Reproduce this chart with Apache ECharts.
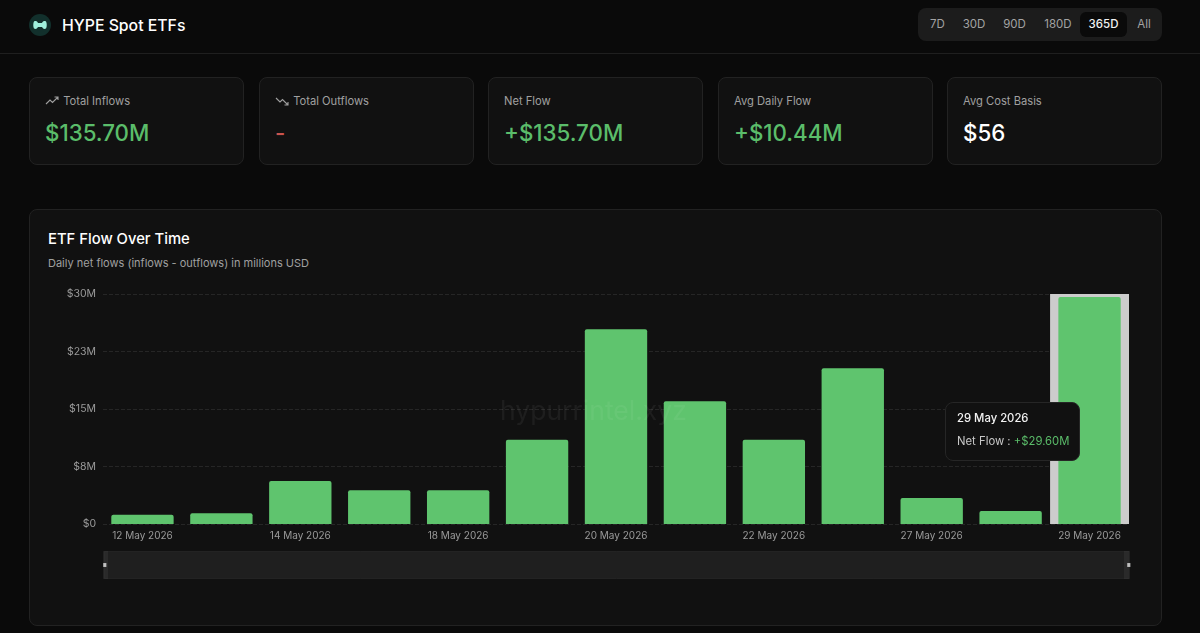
<!DOCTYPE html>
<html><head><meta charset="utf-8">
<script src="https://cdn.jsdelivr.net/npm/echarts@6/dist/echarts.min.js"></script>
<style>
*{box-sizing:border-box;margin:0;padding:0}
html,body{width:1200px;height:633px;overflow:hidden;background:#0a0a0a;font-family:Inter,"Noto Sans",sans-serif;color:#fff}
.abs{position:absolute}
#hdr{left:0;top:0;width:1200px;height:54px;border-bottom:1px solid #1f1f1f}
#logo{left:29px;top:14px;width:22px;height:22px}
#ttl{left:62px;top:15px;font-size:15.8px;line-height:22px;font-weight:500}
#rng{left:918px;top:8px;width:244px;height:33px;background:#1c1c1c;border-radius:8px}
#rng span{position:absolute;top:4px;height:25px;line-height:25px;font-size:11.5px;font-weight:400;color:#a3a3a3;text-align:center}
#rng span.on{background:#0a0a0a;color:#f2f2f2;border-radius:6px;font-weight:500}
.card{position:absolute;top:77px;width:215px;height:88px;background:#111;border:1px solid #222;border-radius:8px}
.card .l{position:absolute;left:15px;top:16px;font-size:11.2px;line-height:15px;color:#a0a0a0;white-space:nowrap}
.card .l svg{vertical-align:-1px;margin-right:1px}
.card .v{position:absolute;left:15px;top:40px;font-size:22.3px;line-height:30px;font-weight:500;white-space:nowrap}
.g{color:#5bbd6a}.r{color:#c9544f}.w{color:#fff}
#panel{left:29px;top:209px;width:1133px;height:417px;background:#111;border:1px solid #222;border-radius:8px}
#pt{left:48px;top:230px;font-size:14.8px;line-height:19px;font-weight:500}
#ps{left:48px;top:256px;font-size:11px;line-height:15px;color:#a0a0a0}
#chart{left:29px;top:209px;width:1133px;height:417px}
</style></head><body>
<div class="abs" id="hdr"></div>
<svg class="abs" id="logo" viewBox="0 0 22 22"><circle cx="11" cy="11" r="11" fill="#12302c"/><path d="M5 7.5c1.500-1 3-.5 4 1.500h4c1-2 2.500-2.500 4-1.500c1 1.500 1 5.500 0 7c-1.500 1-3 .5-4-1.500H9c-1 2-2.500 2.500-4 1.500c-1-1.500-1-5.500 0-7z" fill="#9ff0dc"/></svg>
<div class="abs" id="ttl">HYPE Spot ETFs</div>
<div class="abs" id="rng">
<span style="left:6px;width:27px">7D</span><span style="left:38px;width:36px">30D</span><span style="left:78px;width:37px">90D</span><span style="left:120px;width:40px">180D</span><span class="on" style="left:162px;width:47px">365D</span><span style="left:212px;width:28px">All</span>
</div>
<div class="card" style="left:29px"><div class="l"><svg width="14" height="10" viewBox="0 0 14 10" fill="none" stroke="#a0a0a0" stroke-width="1.100"><path d="M1 8l4-4 2.500 2.500L13 1M9.500 1H13v3"/></svg> Total Inflows</div><div class="v g">$135.70M</div></div>
<div class="card" style="left:259px"><div class="l"><svg width="14" height="10" viewBox="0 0 14 10" fill="none" stroke="#a0a0a0" stroke-width="1.100"><path d="M1 2l4 4 2.500-2.500L13 9M9.500 9H13V6"/></svg> Total Outflows</div><div class="v r">-</div></div>
<div class="card" style="left:488px"><div class="l">Net Flow</div><div class="v g">+$135.70M</div></div>
<div class="card" style="left:718px"><div class="l">Avg Daily Flow</div><div class="v g">+$10.44M</div></div>
<div class="card" style="left:947px"><div class="l">Avg Cost Basis</div><div class="v w">$56</div></div>
<div class="abs" id="panel"></div>
<div class="abs" id="pt">ETF Flow Over Time</div>
<div class="abs" id="ps">Daily net flows (inflows - outflows) in millions USD</div>
<div class="abs" id="chart"></div>
<script>
const categories = ["12 May 2026","13 May 2026","14 May 2026","15 May 2026","18 May 2026","19 May 2026","20 May 2026","21 May 2026","22 May 2026","26 May 2026","27 May 2026","28 May 2026","29 May 2026"];
const netFlow = [1.2,1.4,5.6,4.4,4.4,11.0,25.4,16.0,11.0,20.3,3.4,1.7,29.6];
const seriesName = "Net Flow";
const watermark = "hypurrintel.xyz";

const chart = echarts.init(document.getElementById('chart'), null, {renderer:'canvas'});
const pointer = {type:'shadow',z:1,shadowStyle:{color:'#cccccc',opacity:1}};
chart.setOption({
  animation:false,
  backgroundColor:'transparent',
  textStyle:{fontFamily:'Inter'},
  grid:{left:74,right:33,top:85,height:230},
  graphic:[
    {type:'text',left:471,top:190,z:100,silent:true,style:{text:watermark,fontSize:26.5,fontFamily:'Inter',fill:'rgba(255,255,255,0.055)'}},
    {type:'rect',left:74,top:342,z:100,silent:true,shape:{width:5,height:28},style:{fill:'rgba(255,255,255,0.05)'}},
    {type:'rect',right:33,top:342,z:100,silent:true,shape:{width:5,height:28},style:{fill:'rgba(255,255,255,0.05)'}}
  ],
  xAxis:{type:'category',data:categories,
    axisLine:{show:false},axisTick:{show:false},
    axisLabel:{interval:1,color:'#9a9a9a',fontSize:10,margin:7,hideOverlap:false},
    axisPointer:pointer},
  yAxis:{type:'value',min:0,max:30,interval:7.5,
    axisLine:{show:false},axisTick:{show:false},
    axisLabel:{color:'#9a9a9a',fontSize:10.5,margin:7,formatter:v=>v===0?'$0':'$'+v.toFixed(0)+'M'},
    splitLine:{lineStyle:{color:'#262626',type:'dashed'}}},
  tooltip:{trigger:'axis',triggerOn:'none',alwaysShowContent:true,transitionDuration:0,
    axisPointer:pointer,
    backgroundColor:'#111111',borderColor:'#262626',borderWidth:1,padding:0,
    extraCssText:'border-radius:8px;box-shadow:none;',
    position:()=>[916,193],
    formatter:p=>{const a=p[0];return '<div style="box-sizing:border-box;width:133px;height:57px;padding:8px 11px;font-family:Inter;font-size:11.3px;line-height:15px;white-space:nowrap"><div style="color:#f2f2f2;font-weight:500">'+a.name+'</div><div style="color:#c8c8c8;margin-top:8px">'+a.seriesName+' : <span style="color:#5bbd6a">+$'+a.value.toFixed(2)+'M</span></div></div>';}},
  dataZoom:[{type:'slider',left:74,right:33,top:342,height:28,start:0,end:100,
    showDetail:false,brushSelect:false,showDataShadow:false,
    backgroundColor:'#1c1c1c',borderColor:'#232323',fillerColor:'#1f1f1f',
    handleIcon:'path://M0 0H8V10H0Z',handleSize:'14%',handleStyle:{color:'#bdbdbd',borderWidth:0},
    moveHandleSize:0,emphasis:{handleStyle:{color:'#bdbdbd'}}}],
  series:[{name:seriesName,type:'bar',z:2,data:netFlow,barWidth:'79%',
    emphasis:{disabled:true},
    itemStyle:{color:'#5fc46e',borderRadius:[2,2,0,0]}}]
});
chart.dispatchAction({type:'showTip',seriesIndex:0,dataIndex:12});
</script>
</body></html>
